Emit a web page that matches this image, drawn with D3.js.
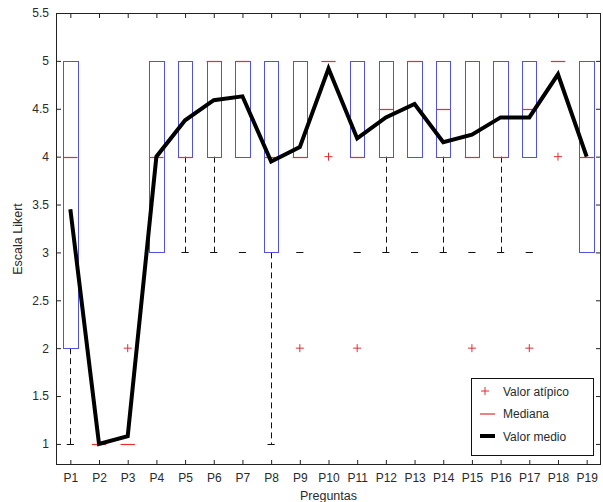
<!DOCTYPE html>
<html>
<head>
<meta charset="utf-8">
<script src="https://cdn.jsdelivr.net/npm/d3@7"></script>
<style>
  html, body { margin: 0; padding: 0; background: #fff; }
  svg { display: block; font-family: "Liberation Sans", Arial, sans-serif; }
</style>
</head>
<body>
<svg id="chart" width="603" height="502"></svg>
<script>
// Likert responses per question: box statistics, outliers and mean
const preguntas = ["P1","P2","P3","P4","P5","P6","P7","P8","P9","P10",
                   "P11","P12","P13","P14","P15","P16","P17","P18","P19"];
const q1      = [2, 1, 1, 3, 4, 4, 4, 3, 4, 5, 4, 4,   4, 4,   4, 4, 4,   5, 3];
const mediana = [4, 1, 1, 4, 4, 5, 5, 4, 4, 5, 4, 4.5, 5, 4.5, 4, 4, 4.5, 5, 4];
const q3      = [5, 1, 1, 5, 5, 5, 5, 5, 5, 5, 5, 5,   5, 5,   5, 5, 5,   5, 5];
const bigoteInf = [1, 1, 1, 3, 3, 3, 3, 1, 3, 5, 3, 3, 3, 3, 3, 3, 3, 5, 3];
const bigoteSup = [5, 1, 1, 5, 5, 5, 5, 5, 5, 5, 5, 5, 5, 5, 5, 5, 5, 5, 5];
// whether the dashed lower whisker segment is drawn
const trazoInf  = [true, false, false, false, true, true, false, true, false, false,
                   false, true, false, true, false, true, false, false, false];
const atipicos = [[], [], [2], [], [], [], [], [], [2], [4],
                  [2], [], [], [], [2], [], [2], [4], []];
const medias = [3.45, 1.0, 1.08, 4.0, 4.38, 4.59, 4.63, 3.95, 4.1, 4.92,
                4.19, 4.41, 4.55, 4.15, 4.23, 4.41, 4.41, 4.86, 4.0];
const yTicks = [1, 1.5, 2, 2.5, 3, 3.5, 4, 4.5, 5, 5.5];

const svg = d3.select("#chart");
const L = 56, R = 601, T = 13, B = 465;
const x = d3.scaleLinear().domain([0.5, preguntas.length + 0.5]).range([L, R]);
const y = d3.scaleLinear().domain([0.78, 5.5]).range([B, T]);
const halfBox = 0.25, halfCap = 0.125;

const textColor = "#2a2a2a";
const blue = "#5252e0", red = "#e03030";

// axes
const gx = svg.append("g").attr("transform", `translate(0,${B})`)
  .call(d3.axisBottom(x).tickValues(d3.range(1, preguntas.length + 1))
        .tickFormat(i => preguntas[i - 1]).tickSizeInner(-5).tickSizeOuter(0).tickPadding(8));
const gxTop = svg.append("g").attr("transform", `translate(0,${T})`)
  .call(d3.axisTop(x).tickValues(d3.range(1, preguntas.length + 1))
        .tickFormat("").tickSizeInner(-5).tickSizeOuter(0));
const gy = svg.append("g").attr("transform", `translate(${L},0)`)
  .call(d3.axisLeft(y).tickValues(yTicks).tickFormat(d3.format("~g"))
        .tickSizeInner(-5).tickSizeOuter(0).tickPadding(7));
const gyR = svg.append("g").attr("transform", `translate(${R},0)`)
  .call(d3.axisRight(y).tickValues(yTicks).tickFormat("")
        .tickSizeInner(-5).tickSizeOuter(0));
[gx, gxTop, gy, gyR].forEach(g => {
  g.select(".domain").remove();
  g.selectAll(".tick line").attr("stroke", "#222");
  g.selectAll("text").attr("fill", textColor).style("font-size", "12px")
    .style("font-family", "'Liberation Sans', Arial, sans-serif");
});

// frame
svg.append("rect").attr("x", L + 0.5).attr("y", T + 0.5)
  .attr("width", R - L - 1).attr("height", B - T - 1)
  .attr("fill", "none").attr("stroke", "#222").attr("stroke-width", 1);

const plot = svg.append("g");
const idx = d3.range(preguntas.length);

// whiskers (dashed)
plot.selectAll(".wlo").data(idx.filter(i => trazoInf[i])).join("line")
  .attr("x1", i => Math.round(x(i + 1)) + 0.5).attr("x2", i => Math.round(x(i + 1)) + 0.5)
  .attr("y1", i => y(q1[i])).attr("y2", i => y(bigoteInf[i]))
  .attr("stroke", "#111").attr("stroke-width", 1).attr("stroke-dasharray", "6,4");
plot.selectAll(".whi").data(idx.filter(i => bigoteSup[i] > q3[i])).join("line")
  .attr("x1", i => Math.round(x(i + 1)) + 0.5).attr("x2", i => Math.round(x(i + 1)) + 0.5)
  .attr("y1", i => y(q3[i])).attr("y2", i => y(bigoteSup[i]))
  .attr("stroke", "#111").attr("stroke-width", 1).attr("stroke-dasharray", "6,4");

// whisker caps
plot.selectAll(".capLo").data(idx).join("line")
  .attr("x1", i => x(i + 1 - halfCap)).attr("x2", i => x(i + 1 + halfCap))
  .attr("y1", i => Math.round(y(bigoteInf[i])) + 0.5).attr("y2", i => Math.round(y(bigoteInf[i])) + 0.5)
  .attr("stroke", "#111").attr("stroke-width", 1);

// boxes
plot.selectAll(".box").data(idx.filter(i => q3[i] > q1[i])).join("rect")
  .attr("x", i => Math.round(x(i + 1 - halfBox)) + 0.5)
  .attr("y", i => Math.round(y(q3[i])) + 0.5)
  .attr("width", i => Math.round(x(i + 1 + halfBox)) - Math.round(x(i + 1 - halfBox)))
  .attr("height", i => Math.round(y(q1[i])) - Math.round(y(q3[i])))
  .attr("fill", "none").attr("stroke", blue).attr("stroke-width", 1);

// medians
plot.selectAll(".med").data(idx).join("line")
  .attr("x1", i => x(i + 1 - halfBox)).attr("x2", i => x(i + 1 + halfBox))
  .attr("y1", i => Math.round(y(mediana[i])) + 0.5).attr("y2", i => Math.round(y(mediana[i])) + 0.5)
  .attr("stroke", red).attr("stroke-width", 1.2);

// outliers
const outl = idx.flatMap(i => atipicos[i].map(v => ({ i, v })));
plot.selectAll(".out").data(outl).join("path")
  .attr("d", d => {
    const cx = x(d.i + 1), cy = y(d.v), s = 4;
    return `M${cx - s},${cy}H${cx + s}M${cx},${cy - s}V${cy + s}`;
  })
  .attr("stroke", red).attr("stroke-width", 1).attr("fill", "none");

// mean line
plot.append("path").datum(idx)
  .attr("d", d3.line().x(i => x(i + 1)).y(i => y(medias[i])))
  .attr("fill", "none").attr("stroke", "#000").attr("stroke-width", 4)
  .attr("stroke-linejoin", "miter");

// axis titles
svg.append("text").attr("x", (L + R) / 2).attr("y", 500)
  .attr("text-anchor", "middle").attr("fill", textColor).style("font-size", "12.5px")
  .text("Preguntas");
svg.append("text").attr("transform", `translate(22,${(T + B) / 2}) rotate(-90)`)
  .attr("text-anchor", "middle").attr("fill", textColor).style("font-size", "12.5px")
  .text("Escala Likert");

// legend
const lg = svg.append("g").attr("transform", "translate(471,378)");
lg.append("rect").attr("x", 0.5).attr("y", 0.5).attr("width", 122).attr("height", 77)
  .attr("fill", "#fff").attr("stroke", "#111").attr("stroke-width", 1);
const items = [
  { label: "Valor atípico", kind: "plus" },
  { label: "Mediana", kind: "med" },
  { label: "Valor medio", kind: "mean" }
];
items.forEach((it, k) => {
  const cy = 13 + k * 22.5;
  if (it.kind === "plus") {
    lg.append("path").attr("d", `M10,${cy}H18M14,${cy - 4}V${cy + 4}`)
      .attr("stroke", red).attr("stroke-width", 1).attr("fill", "none");
  } else if (it.kind === "med") {
    lg.append("line").attr("x1", 9).attr("x2", 24).attr("y1", cy + 0.5).attr("y2", cy + 0.5)
      .attr("stroke", red).attr("stroke-width", 1.2);
  } else {
    lg.append("line").attr("x1", 9).attr("x2", 24).attr("y1", cy).attr("y2", cy)
      .attr("stroke", "#000").attr("stroke-width", 4);
  }
  lg.append("text").attr("x", 32).attr("y", cy + 4.5).attr("fill", textColor)
    .style("font-size", "12px").text(it.label);
});
</script>
</body>
</html>
